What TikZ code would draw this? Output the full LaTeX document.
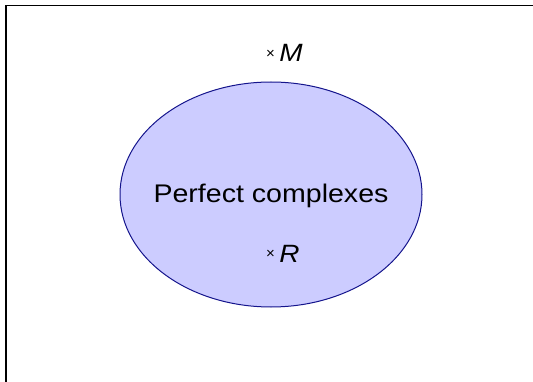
\documentclass[tikz,border=0pt]{standalone}
\usepackage{fontspec}
\setmainfont{Liberation Sans}
\usetikzlibrary{shapes.geometric}
\definecolor{setfill}{RGB}{204,204,255}
\definecolor{setline}{RGB}{20,20,140}
\tikzset{
  setshape/.style={ellipse, draw=setline, fill=setfill, line width=1pt, minimum width=302pt, minimum height=225pt, inner sep=0pt},
  bigtext/.style={font=\fontsize{25.5}{29}\selectfont, inner sep=0pt},
  pointlabel/.style={font=\fontsize{25}{29}\selectfont, inner sep=0pt, anchor=base west},
}
\newcommand{\wideit}[1]{\scalebox{1.12}[1]{#1}}
\newcommand{\pointmark}[1]{\raisebox{0.25ex}{\fontsize{15}{15}\selectfont ×}\hspace{4.5pt}\wideit{\itshape #1}}
\begin{document}
\begin{tikzpicture}[x=1pt,y=-1pt]
  \useasboundingbox (0,0) rectangle (533,382);
  \begin{scope}
    \clip (0,0) rectangle (533,382);
    \draw[line width=1.3pt] (6,400) -- (6,5.5) -- (560,5.5);
  \end{scope}
  \node[setshape] (perfect) at (271,194.5) {};
  \node[bigtext] (label) at (271,196) {\wideit{Perfect complexes}};
  \node[pointlabel] (M) at (266,62) {\pointmark{M}};
  \node[pointlabel] (R) at (266,262) {\pointmark{R}};
\end{tikzpicture}
\end{document}
